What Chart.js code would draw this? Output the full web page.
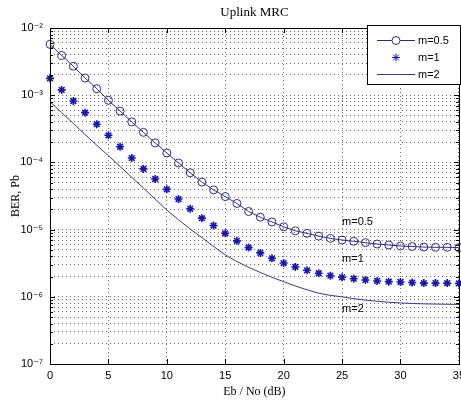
<!DOCTYPE html>
<html>
<head>
<meta charset="utf-8">
<script src="https://cdn.jsdelivr.net/npm/chart.js@4.4.1/dist/chart.umd.min.js"></script>
<style>
  html, body { margin: 0; padding: 0; background: #fff; overflow: hidden; }
  #wrap { width: 470px; height: 403px; }
</style>
</head>
<body>
<div id="wrap"><canvas id="ber" width="470" height="403"></canvas></div>
<script>
// Eb/No points (dB)
const snr = [0, 1, 2, 3, 4, 5, 6, 7, 8, 9, 10, 11, 12, 13, 14, 15, 16, 17,
    18, 19, 20, 21, 22, 23, 24, 25, 26, 27, 28, 29, 30, 31, 32, 33, 34, 35];

// BER
const berM05 = [5.7e-3, 3.9e-3, 2.7e-3, 1.8e-3, 1.25e-3, 8.4e-4, 5.8e-4, 4.0e-4, 2.8e-4, 1.95e-4,
    1.38e-4, 9.8e-5, 7.0e-5, 5.1e-5, 3.9e-5, 3.1e-5, 2.45e-5, 1.86e-5, 1.53e-5, 1.3e-5,
    1.1e-5, 9.6e-6, 8.8e-6, 8.0e-6, 7.4e-6, 7.0e-6, 6.7e-6, 6.4e-6, 6.1e-6, 5.9e-6,
    5.7e-6, 5.6e-6, 5.5e-6, 5.45e-6, 5.45e-6, 5.4e-6];
const berM1 = [1.78e-3, 1.2e-3, 8.2e-4, 5.5e-4, 3.7e-4, 2.53e-4, 1.71e-4, 1.16e-4, 8.0e-5, 5.66e-5,
    3.98e-5, 2.85e-5, 2.04e-5, 1.48e-5, 1.15e-5, 8.8e-6, 6.8e-6, 5.4e-6, 4.5e-6, 3.74e-6,
    3.18e-6, 2.78e-6, 2.48e-6, 2.24e-6, 2.06e-6, 1.95e-6, 1.86e-6, 1.78e-6, 1.72e-6, 1.68e-6,
    1.66e-6, 1.63e-6, 1.6e-6, 1.6e-6, 1.6e-6, 1.58e-6];
const berM2 = [8.0e-4, 5.5e-4, 3.8e-4, 2.6e-4, 1.8e-4, 1.26e-4, 8.7e-5, 6.0e-5, 4.15e-5, 2.85e-5,
    1.95e-5, 1.4e-5, 1.02e-5, 7.6e-6, 5.6e-6, 4.2e-6, 3.35e-6, 2.75e-6, 2.3e-6, 1.95e-6,
    1.68e-6, 1.45e-6, 1.27e-6, 1.13e-6, 1.05e-6, 1.0e-6, 9.4e-7, 8.9e-7, 8.6e-7, 8.3e-7,
    8.1e-7, 7.95e-7, 7.85e-7, 7.8e-7, 7.75e-7, 7.7e-7];

const seriesLabels = ['m=0.5', 'm=1', 'm=2'];

// axis ticks
const xTicks = [0, 5, 10, 15, 20, 25, 30, 35];
const yDecades = [-7, -6, -5, -4, -3, -2];
const yMinorSteps = [2, 3, 4, 5, 6, 7, 8, 9];

// in-plot text labels (data coords, left aligned)
const notes = [
    { text: 'm=0.5', x: 25, y: 1.3e-5 },
    { text: 'm=1', x: 25, y: 3.6e-6 },
    { text: 'm=2', x: 25, y: 6.6e-7 }
];

const SANS = "'Liberation Sans', Arial, 'DejaVu Sans', sans-serif";
const SERIF = "'Liberation Serif', 'Times New Roman', serif";
const SUP = { '-': '\u207B', '0': '\u2070', '1': '\u00B9', '2': '\u00B2', '3': '\u00B3',
    '4': '\u2074', '5': '\u2075', '6': '\u2076', '7': '\u2077', '8': '\u2078', '9': '\u2079' };

const yTickValues = [];
yDecades.forEach((d, i) => {
    yTickValues.push(Math.pow(10, d));
    if (i < yDecades.length - 1) {
        yMinorSteps.forEach(s => yTickValues.push(s * Math.pow(10, d)));
    }
});

function decadeOf(v) {
    const e = Math.round(Math.log10(v));
    return Math.abs(v / Math.pow(10, e) - 1) < 1e-6 ? e : null;
}

const toPoints = arr => snr.map((x, i) => ({ x: x, y: arr[i] }));

// box, inward tick marks, matlab-like legend and text labels
const matlabDecor = {
    id: 'matlabDecor',
    afterDraw(chart) {
        const { ctx, chartArea: a, scales: { x, y } } = chart;
        ctx.save();
        ctx.strokeStyle = '#000';
        ctx.lineWidth = 1;
        ctx.beginPath();
        xTicks.forEach(v => {
            const px = Math.round(x.getPixelForValue(v)) + 0.5;
            ctx.moveTo(px, a.bottom); ctx.lineTo(px, a.bottom - 5);
            ctx.moveTo(px, a.top); ctx.lineTo(px, a.top + 5);
        });
        yTickValues.forEach(v => {
            const py = Math.round(y.getPixelForValue(v)) + 0.5;
            const len = decadeOf(v) === null ? 3 : 5;
            ctx.moveTo(a.left, py); ctx.lineTo(a.left + len, py);
            ctx.moveTo(a.right, py); ctx.lineTo(a.right - len, py);
        });
        ctx.stroke();
        ctx.strokeRect(Math.round(a.left) + 0.5, Math.round(a.top) + 0.5,
            Math.round(a.width), Math.round(a.height));

        // text labels on the curves
        ctx.fillStyle = '#000';
        ctx.font = '11px ' + SANS;
        ctx.textAlign = 'left';
        ctx.textBaseline = 'middle';
        notes.forEach(n => {
            ctx.fillText(n.text, x.getPixelForValue(n.x), y.getPixelForValue(n.y));
        });

        // legend box
        const lx = 367, ly = 25, lw = 93, lh = 59;
        ctx.fillStyle = '#fff';
        ctx.fillRect(lx, ly, lw, lh);
        ctx.strokeRect(lx + 0.5, ly + 0.5, lw, lh);
        const rows = [40, 57, 74];
        chart.data.datasets.forEach((ds, i) => {
            const ry = rows[i] + 0.5;
            if (ds.showLine !== false) {
                ctx.strokeStyle = ds.borderColor;
                ctx.lineWidth = ds.borderWidth;
                ctx.beginPath();
                ctx.moveTo(377, ry); ctx.lineTo(415, ry);
                ctx.stroke();
            }
            if (ds.pointRadius > 0) {
                ctx.strokeStyle = ds.pointBorderColor;
                ctx.fillStyle = '#fff';
                Chart.helpers.drawPoint(ctx, {
                    pointStyle: ds.pointStyle, radius: ds.pointRadius,
                    borderWidth: ds.pointBorderWidth, rotation: 0
                }, 396, ry);
            }
            ctx.fillStyle = '#000';
            ctx.fillText(ds.label, 418, ry);
        });
        ctx.restore();
    }
};

new Chart(document.getElementById('ber'), {
    type: 'line',
    data: {
        datasets: [
            {
                label: seriesLabels[0],
                data: toPoints(berM05),
                borderColor: '#2d2d88',
                borderWidth: 1,
                pointStyle: 'circle',
                pointRadius: 4,
                pointBorderWidth: 1,
                pointBorderColor: '#2d2d88',
                pointBackgroundColor: 'rgba(0,0,0,0)',
                tension: 0,
                clip: false
            },
            {
                label: seriesLabels[1],
                data: toPoints(berM1),
                showLine: false,
                borderColor: '#1616b0',
                pointStyle: 'star',
                pointRadius: 4,
                pointBorderWidth: 1.6,
                pointBorderColor: '#1616b0',
                pointBackgroundColor: '#1616b0',
                clip: false
            },
            {
                label: seriesLabels[2],
                data: toPoints(berM2),
                borderColor: '#38388f',
                borderWidth: 1,
                pointRadius: 0,
                tension: 0
            }
        ]
    },
    options: {
        responsive: false,
        animation: false,
        events: [],
        layout: { padding: { top: 0, right: 10.5, bottom: 0, left: 0 } },
        plugins: {
            legend: { display: false },
            tooltip: { enabled: false },
            title: {
                display: true,
                text: 'Uplink MRC',
                fullSize: false,
                color: '#000',
                font: { family: SERIF, size: 13, weight: 'normal' },
                padding: { top: 5, bottom: 7.4 }
            }
        },
        scales: {
            x: {
                type: 'linear',
                min: 0,
                max: 35,
                afterFit: s => { s.height = 39; },
                afterBuildTicks: s => { s.ticks = xTicks.map(v => ({ value: v })); },
                ticks: {
                    autoSkip: false,
                    maxRotation: 0,
                    padding: 5,
                    color: '#000',
                    font: { family: SANS, size: 11 }
                },
                grid: { color: 'rgba(0,0,0,0.6)', lineWidth: 1, drawTicks: false },
                border: { display: false, dash: [1, 3] },
                title: {
                    display: true,
                    text: 'Eb / No (dB)',
                    color: '#000',
                    font: { family: SERIF, size: 12 },
                    padding: { top: 0, bottom: 3.8 }
                }
            },
            y: {
                type: 'logarithmic',
                min: 1e-7,
                max: 1e-2,
                afterFit: s => { s.width = 50; },
                afterBuildTicks: s => { s.ticks = yTickValues.map(v => ({ value: v })); },
                ticks: {
                    autoSkip: false,
                    padding: 7,
                    color: '#000',
                    font: { family: SANS, size: 11 },
                    callback: v => {
                        const e = decadeOf(v);
                        if (e === null) return '';
                        return '10' + String(e).split('').map(c => SUP[c]).join('');
                    }
                },
                grid: { color: 'rgba(0,0,0,0.6)', lineWidth: 1, drawTicks: false },
                border: { display: false, dash: [1, 3] },
                title: {
                    display: true,
                    text: 'BER, Pb',
                    color: '#000',
                    font: { family: SERIF, size: 12 },
                    padding: { top: 9, bottom: 0 }
                }
            }
        }
    },
    plugins: [matlabDecor]
});
</script>
</body>
</html>
